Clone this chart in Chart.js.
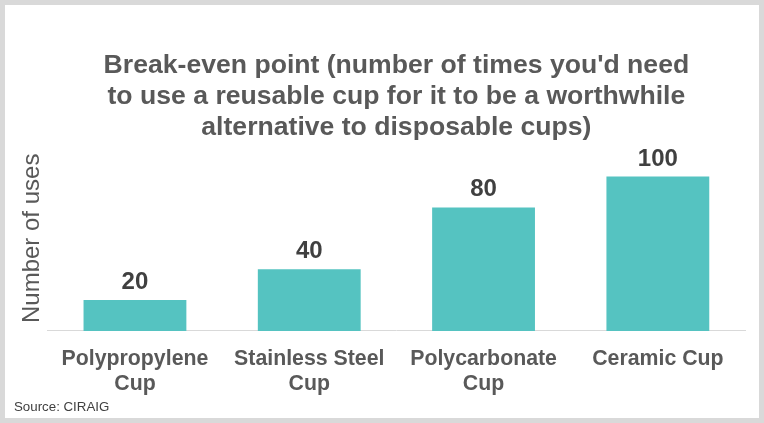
<!DOCTYPE html>
<html>
<head>
<meta charset="utf-8">
<script src="https://cdn.jsdelivr.net/npm/chart.js@4"></script>
<style>
  html, body { margin: 0; padding: 0; background: #fff; }
  #frame {
    width: 764px;
    height: 423px;
    box-sizing: border-box;
    border: 5px solid #d9d9d9;
    background: #fff;
  }
  canvas { display: block; }
</style>
</head>
<body>
<div id="frame"><canvas id="cupChart" width="754" height="413"></canvas></div>
<script>
// chart data
const cupTypes = [
    ["Polypropylene", "Cup"],
    ["Stainless Steel", "Cup"],
    ["Polycarbonate", "Cup"],
    "Ceramic Cup"
];
const breakEvenUses = [20, 40, 80, 100];

const titleLines = [
    "Break-even point (number of times you'd need",
    "to use a reusable cup for it to be a worthwhile",
    "alternative to disposable cups)"
];
const yAxisLabel = "Number of uses";
const sourceNote = "Source: CIRAIG";

const fontFamily = "'Liberation Sans', Arial, sans-serif";

// draws the value above each bar, and the source note bottom left
const valueLabels = {
    id: 'valueLabels',
    afterDatasetsDraw(chart) {
        const ctx = chart.ctx;
        const meta = chart.getDatasetMeta(0);
        ctx.save();
        ctx.font = "bold 24px " + fontFamily;
        ctx.fillStyle = '#404040';
        ctx.textAlign = 'center';
        ctx.textBaseline = 'alphabetic';
        meta.data.forEach(function (bar, i) {
            ctx.fillText(breakEvenUses[i], bar.x, bar.y - 11);
        });
        ctx.restore();
    },
    afterDraw(chart) {
        const ctx = chart.ctx;
        ctx.save();
        ctx.font = "13.3px " + fontFamily;
        ctx.fillStyle = '#404040';
        ctx.textAlign = 'left';
        ctx.textBaseline = 'middle';
        ctx.fillText(sourceNote, 9, chart.height - 11);
        ctx.restore();
    }
};

document.addEventListener("DOMContentLoaded", function () {
    const ctx = document.getElementById('cupChart').getContext('2d');
    new Chart(ctx, {
        type: 'bar',
        data: {
            labels: cupTypes,
            datasets: [{
                data: breakEvenUses,
                backgroundColor: '#55c3c1',
                borderWidth: 0,
                barPercentage: 0.59,
                categoryPercentage: 1
            }]
        },
        options: {
            responsive: false,
            animation: false,
            devicePixelRatio: 1,
            layout: {
                padding: { left: 9, right: 14, top: 0, bottom: 6 }
            },
            plugins: {
                legend: { display: false },
                tooltip: { enabled: false },
                title: {
                    display: true,
                    text: titleLines,
                    fullSize: false,
                    color: '#595959',
                    font: { family: fontFamily, size: 26.6, weight: 'bold', lineHeight: 1.17 },
                    padding: { top: 45, bottom: 2.4 }
                }
            },
            scales: {
                x: {
                    grid: { display: false, drawTicks: false },
                    border: { display: true, color: '#d9d9d9', width: 1 },
                    ticks: {
                        color: '#595959',
                        padding: 15,
                        font: { family: fontFamily, size: 21.3, weight: 'bold', lineHeight: 1.2 }
                    }
                },
                y: {
                    min: 0,
                    max: 120,
                    grid: { display: false, drawTicks: false },
                    border: { display: false },
                    ticks: { display: false },
                    title: {
                        display: true,
                        text: yAxisLabel,
                        color: '#595959',
                        font: { family: fontFamily, size: 24, weight: 'normal', lineHeight: 1.2 },
                        padding: { top: 4, bottom: 1 }
                    }
                }
            }
        },
        plugins: [valueLabels]
    });
});
</script>
</body>
</html>
